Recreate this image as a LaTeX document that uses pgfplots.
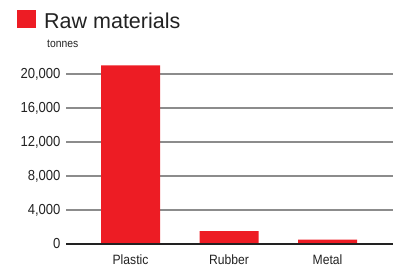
\documentclass[border=0pt]{standalone}
\usepackage{pgfplots}
\pgfplotsset{compat=1.18}
\usepackage{fontspec}
\setmainfont{Liberation Sans}[FakeStretch=0.9]
\newfontfamily\titlefont{Liberation Sans}
\definecolor{barred}{HTML}{ED1C24}
\definecolor{gridgray}{HTML}{8C8C8C}
\definecolor{zeroline}{HTML}{222222}
\definecolor{txt}{HTML}{222222}
\begin{document}
\begin{tikzpicture}[x=1bp,y=1bp]
\path[use as bounding box] (0,0) rectangle (395,268);
\fill[barred] (17,240) rectangle (36,258);
\node[anchor=base west, inner sep=0pt, text=txt, font=\titlefont\fontsize{21.5bp}{24bp}\selectfont] at (44,240) {Raw materials};
\node[anchor=base west, inner sep=0pt, text=txt, font=\fontsize{11.5bp}{13bp}\selectfont] at (47,221) {tonnes};
\begin{axis}[
  at={(66bp,24bp)}, anchor=south west,
  scale only axis, width=327bp, height=178.5bp,
  xmin=-0.655, xmax=2.665, ymin=0, ymax=21000,
  axis x line*=bottom,
  axis y line*=left,
  axis line style={draw=none},
  scaled y ticks=false,
  ytick={0,4000,8000,12000,16000,20000},
  yticklabel style={font=\fontsize{14.5bp}{16bp}\selectfont, xshift=-2bp, text=txt},
  yticklabels={0,{4,000},{8,000},{12,000},{16,000},{20,000}},
  xtick=data, xticklabels={Plastic,Rubber,Metal},
  xticklabel style={font=\fontsize{13.5bp}{15bp}\selectfont, yshift=-7bp, text=txt},
  tick style={draw=none},
  ymajorgrids, grid style={gridgray, line width=1.3bp},
  clip=false,
]
\addplot[draw=none, fill=barred, ybar, bar width=59bp] coordinates {(0,21000) (1,1500) (2,500)};
\draw[zeroline, line width=2.2bp] (axis cs:-0.655,0) -- (axis cs:2.665,0);
\end{axis}
\end{tikzpicture}
\end{document}
